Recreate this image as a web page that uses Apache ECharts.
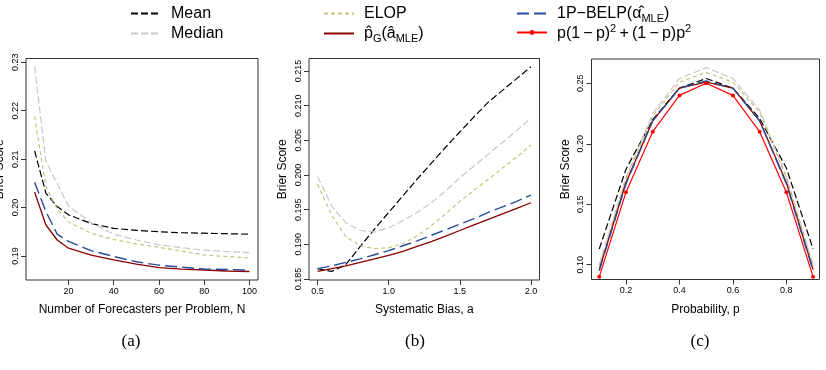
<!DOCTYPE html>
<html>
<head>
<meta charset="utf-8">
<script src="https://cdn.jsdelivr.net/npm/echarts@6/dist/echarts.min.js"></script>
<style>html,body{margin:0;padding:0;background:#fff;}#c{width:826px;height:370px;}</style>
</head>
<body>
<div id="c"></div>
<script>
// ---------- Data ----------
const nForecasters = [5, 10, 15, 20, 30, 40, 50, 60, 70, 80, 90, 100];
const aMean   = [0.2117, 0.2030, 0.2002, 0.1985, 0.1967, 0.1957, 0.1953, 0.1950, 0.1948, 0.1947, 0.1946, 0.1945];
const aMedian = [0.2291, 0.2095, 0.2049, 0.2003, 0.1969, 0.1945, 0.1933, 0.1923, 0.1917, 0.1912, 0.1909, 0.1907];
const aElop   = [0.2188, 0.2043, 0.1997, 0.1970, 0.1947, 0.1934, 0.1925, 0.1918, 0.1910, 0.1902, 0.1899, 0.1896];
const aPg     = [0.2032, 0.1964, 0.1933, 0.1916, 0.1902, 0.1892, 0.1883, 0.1876, 0.1873, 0.1871, 0.1869, 0.1868];
const aBelp   = [0.2052, 0.1992, 0.1945, 0.1930, 0.1911, 0.1899, 0.1888, 0.1881, 0.1877, 0.1873, 0.1872, 0.1871];

const bias    = [0.5, 0.6, 0.7, 0.8, 0.9, 1.0, 1.1, 1.2, 1.3, 1.4, 1.5, 1.6, 1.7, 1.8, 1.9, 2.0];
const bMean   = [0.1865, 0.1861, 0.1871, 0.1897, 0.1922, 0.1946, 0.1970, 0.1994, 0.2017, 0.2040, 0.2062, 0.2084, 0.2105, 0.2122, 0.2139, 0.2156];
const bMedian = [0.1998, 0.1955, 0.1931, 0.1920, 0.1918, 0.1924, 0.1934, 0.1946, 0.1960, 0.1977, 0.1996, 0.2013, 0.2030, 0.2047, 0.2064, 0.2082];
const bElop   = [0.1987, 0.1942, 0.1911, 0.1898, 0.1894, 0.1895, 0.1901, 0.1912, 0.1927, 0.1944, 0.1962, 0.1978, 0.1994, 0.2010, 0.2026, 0.2043];
const bPg     = [0.1861, 0.1865, 0.1869, 0.1874, 0.1879, 0.1884, 0.1890, 0.1897, 0.1904, 0.1912, 0.1920, 0.1928, 0.1936, 0.1944, 0.1952, 0.1960];
const bBelp   = [0.1865, 0.1869, 0.1874, 0.1879, 0.1885, 0.1891, 0.1898, 0.1905, 0.1913, 0.1921, 0.1929, 0.1937, 0.1946, 0.1954, 0.1962, 0.1971];

const prob    = [0.1, 0.2, 0.3, 0.4, 0.5, 0.6, 0.7, 0.8, 0.9];
const cMean   = [0.113, 0.179, 0.220, 0.246, 0.254, 0.246, 0.221, 0.180, 0.113];
const cMedian = [0.100, 0.172, 0.225, 0.254, 0.263, 0.254, 0.228, 0.173, 0.100];
const cElop   = [0.099, 0.171, 0.223, 0.251, 0.259, 0.251, 0.226, 0.172, 0.099];
const cPg     = [0.096, 0.168, 0.219, 0.246, 0.251, 0.246, 0.219, 0.168, 0.096];
const cBelp   = [0.095, 0.167, 0.219, 0.246, 0.252, 0.246, 0.219, 0.167, 0.095];
const cTrue   = [0.09, 0.16, 0.21, 0.24, 0.25, 0.24, 0.21, 0.16, 0.09];

const xTicksA = [20, 40, 60, 80, 100];
const yTicksA = [0.19, 0.20, 0.21, 0.22, 0.23];
const xTicksB = [0.5, 1.0, 1.5, 2.0];
const yTicksB = [0.185, 0.190, 0.195, 0.200, 0.205, 0.210, 0.215];
const xTicksC = [0.2, 0.4, 0.6, 0.8];
const yTicksC = [0.10, 0.15, 0.20, 0.25];

const xTitles = ['Number of Forecasters per Problem, N', 'Systematic Bias, a', 'Probability, p'];
const captions = ['(a)', '(b)', '(c)'];

// ---------- Chart ----------
const FONT = '"Liberation Sans", Arial, sans-serif';
const BOX = '#333';
const chart = echarts.init(document.getElementById('c'), null, {renderer: 'canvas'});

const styles = {
  Mean:   {color: '#000000', type: [7, 3], width: 1.2},
  Median: {color: '#c8c8c8', type: [7, 3], width: 1.2},
  ELOP:   {color: '#c9c27c', type: [4, 3], width: 1.2},
  pG:     {color: '#8b0000', type: 'solid', width: 1.3},
  BELP:   {color: '#2a4a9a', type: [12, 5], width: 1.4},
  True:   {color: '#ff0000', type: 'solid', width: 1.2}
};

function pairs(xs, ys) { return xs.map((x, i) => [x, ys[i]]); }

function mkSeries(name, gi, xs, ys) {
  const st = styles[name];
  const s = {
    type: 'line', name: name, xAxisIndex: gi, yAxisIndex: gi,
    data: pairs(xs, ys),
    lineStyle: {color: st.color, type: st.type, width: st.width},
    itemStyle: {color: st.color},
    symbol: 'none', smooth: false, silent: true
  };
  if (name === 'True') { s.symbol = 'circle'; s.symbolSize = 4; s.z = 5; }
  return s;
}

function xAxisCfg(gi, min, max, ticks, dec) {
  return {
    type: 'value', gridIndex: gi, min: min, max: max,
    name: xTitles[gi], nameLocation: 'middle', nameGap: 24,
    nameTextStyle: {fontSize: 12, color: '#000', fontFamily: FONT},
    axisLine: {show: false},
    axisTick: {show: true, inside: false, length: 5, customValues: ticks, lineStyle: {color: BOX}},
    axisLabel: {customValues: ticks, formatter: v => v.toFixed(dec), fontSize: 9, margin: 7, color: '#000', fontFamily: FONT},
    splitLine: {show: false}
  };
}
function yAxisCfg(gi, min, max, ticks, dec, gap) {
  return {
    type: 'value', gridIndex: gi, min: min, max: max,
    name: 'Brier Score', nameLocation: 'middle', nameGap: gap, nameRotate: 90,
    nameTextStyle: {fontSize: 12, color: '#000', fontFamily: FONT},
    axisLine: {show: false},
    axisTick: {show: true, inside: false, length: 5, customValues: ticks, lineStyle: {color: BOX}},
    axisLabel: {customValues: ticks, formatter: v => v.toFixed(dec), fontSize: 9, margin: 6, rotate: 90, color: '#000', fontFamily: FONT},
    splitLine: {show: false}
  };
}

const legendLabels = {
  Mean: '{t|Mean}',
  Median: '{t|Median}',
  ELOP: '{t|ELOP}',
  pG: '{t|p\u0302}{sub|G}{t|(\u00e2}{sub|MLE}{t|)}',
  BELP: '{t|1P\u2212BELP(\u03b1\u0302}{sub|MLE}{t|)}',
  True: '{t|p(1\u2009\u2212\u2009p)}{sup|2}{t|\u2009+\u2009(1\u2009\u2212\u2009p)p}{sup|2}'
};
const rich = {
  t: {fontSize: 16, fontFamily: FONT, color: '#000', lineHeight: 22},
  sub: {fontSize: 11, fontFamily: FONT, color: '#000', lineHeight: 11, verticalAlign: 'bottom'},
  sup: {fontSize: 11, fontFamily: FONT, color: '#000', lineHeight: 11, verticalAlign: 'top'}
};
function mkLegend(name, left, top, withSymbol) {
  return {
    data: [name], left: left, top: top, orient: 'horizontal',
    itemWidth: 30, itemHeight: withSymbol ? 6 : 14, selectedMode: false,
    itemStyle: withSymbol ? {} : {opacity: 0},
    formatter: n => legendLabels[n],
    textStyle: {fontSize: 16, fontFamily: FONT, color: '#000', rich: rich,
      padding: withSymbol ? [3, 0, 0, 5] : [0, 0, 0, 5]}
  };
}

const gridBase = {show: true, borderColor: BOX, borderWidth: 1, containLabel: false, outerBoundsMode: 'none'};

const option = {
  animation: false,
  backgroundColor: '#ffffff',
  legend: [
    mkLegend('Mean', 125, 0.5, false),
    mkLegend('Median', 125, 20.5, false),
    mkLegend('ELOP', 318, 0.5, false),
    mkLegend('pG', 318, 20.5, false),
    mkLegend('BELP', 511, 0.5, false),
    mkLegend('True', 511, 18, true)
  ],
  grid: [
    Object.assign({left: 26, top: 58.5, width: 232, height: 221.5}, gridBase),
    Object.assign({left: 309, top: 58.5, width: 230.5, height: 221.5}, gridBase),
    Object.assign({left: 591.5, top: 59, width: 228, height: 220.5}, gridBase)
  ],
  xAxis: [
    xAxisCfg(0, 1.2, 103.8, xTicksA, 0),
    xAxisCfg(1, 0.44, 2.06, xTicksB, 1),
    xAxisCfg(2, 0.071, 0.924, xTicksC, 1)
  ],
  yAxis: [
    yAxisCfg(0, 0.18504, 0.23078, yTicksA, 2, 20),
    yAxisCfg(1, 0.18486, 0.2168, yTicksB, 3, 20),
    yAxisCfg(2, 0.0878, 0.2701, yTicksC, 2, 20)
  ],
  series: [
    mkSeries('Mean', 0, nForecasters, aMean),
    mkSeries('Median', 0, nForecasters, aMedian),
    mkSeries('ELOP', 0, nForecasters, aElop),
    mkSeries('pG', 0, nForecasters, aPg),
    mkSeries('BELP', 0, nForecasters, aBelp),

    mkSeries('Mean', 1, bias, bMean),
    mkSeries('Median', 1, bias, bMedian),
    mkSeries('ELOP', 1, bias, bElop),
    mkSeries('pG', 1, bias, bPg),
    mkSeries('BELP', 1, bias, bBelp),

    mkSeries('Mean', 2, prob, cMean),
    mkSeries('Median', 2, prob, cMedian),
    mkSeries('ELOP', 2, prob, cElop),
    mkSeries('pG', 2, prob, cPg),
    mkSeries('BELP', 2, prob, cBelp),
    mkSeries('True', 2, prob, cTrue)
  ],
  graphic: [
    {type: 'text', x: 131, y: 342, style: {text: captions[0], font: '17px "Liberation Serif", "Times New Roman", serif', fill: '#000', align: 'center', verticalAlign: 'middle', textAlign: 'center', textVerticalAlign: 'middle'}},
    {type: 'text', x: 415, y: 342, style: {text: captions[1], font: '17px "Liberation Serif", "Times New Roman", serif', fill: '#000', align: 'center', verticalAlign: 'middle', textAlign: 'center', textVerticalAlign: 'middle'}},
    {type: 'text', x: 700, y: 342, style: {text: captions[2], font: '17px "Liberation Serif", "Times New Roman", serif', fill: '#000', align: 'center', verticalAlign: 'middle', textAlign: 'center', textVerticalAlign: 'middle'}}
  ]
};
chart.setOption(option);
</script>
</body>
</html>
